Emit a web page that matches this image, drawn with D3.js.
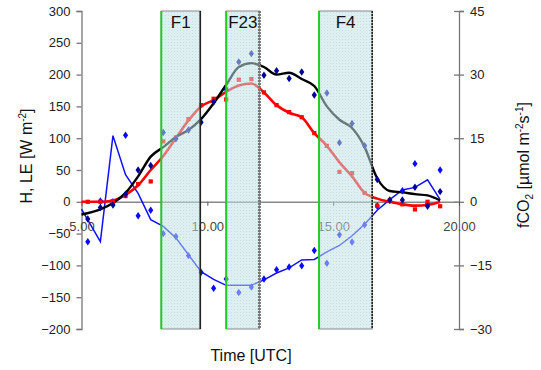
<!DOCTYPE html>
<html>
<head>
<meta charset="utf-8">
<script src="https://cdn.jsdelivr.net/npm/d3@7"></script>
<style>
  body { margin: 0; background: #fff; }
  svg { font-family: "Liberation Sans", Arial, sans-serif; }
</style>
</head>
<body>
<div id="chart"></div>
<script>
// times of the half-hourly points (UTC hours)
const times = [5.25, 5.75, 6.25, 6.75, 7.25, 7.75, 8.25, 8.75, 9.25, 9.75, 10.25, 10.75, 11.25, 11.75,
  12.25, 12.75, 13.25, 13.75, 14.25, 14.75, 15.25, 15.75, 16.25, 16.75, 17.25, 17.75, 18.25, 18.75, 19.25];
// times of the smoothed curves
const lineTimes = [5.0, 5.75, 6.25, 6.75, 7.25, 7.75, 8.25, 8.75, 9.25, 9.75, 10.25, 10.75, 11.25, 11.75,
  12.25, 12.75, 13.25, 13.75, 14.25, 14.75, 15.25, 15.75, 16.25, 16.75, 17.25, 17.75, 18.25, 18.75, 19.25];

// sensible heat H [W m-2]
const H_points = [-27, -9, -5, 12, 50, 57, 109, 99, 113, 125, 157, 177, 220, 233,
  199, 206, 194, 204, 168, 171, 93, 123, 88, 35, 3, 3, 23, -7, 16];
const H_line = [-20, -12, -2, 14, 40, 71, 86, 102, 113, 130, 155, 184, 212, 218,
  212, 200, 203, 193, 182, 150, 129, 116, 86, 37, 17, 15, 12, 10, 2];

// latent heat LE [W m-2]
const LE_points = [0, 0, 1, 9, 28, 32, 95, 101, 130, 152, 162, 161, 192, 193,
  172, 152, 141, 133, 108, 88, 47, 45, 14, -6, 2, -4, -12, 0, -7];
const LE_line = [0, 0, 2, 11, 26, 50, 72, 100, 128, 150, 160, 173, 183, 186,
  172, 152, 140, 133, 108, 88, 62, 40, 14, 5, 0, -4, -6, -5, 0];

// CO2 flux [umol m-2 s-1]
const fCO2_points = [-9.4, 0.2, 0, 15.7, -3.3, -2.0, -7.5, -8.2, -12.7, -16.6, -20.4, -18.2, -21.4, -20.1,
  -18.2, -16.0, -15.4, -15.1, -11.5, -14.5, -7.8, -9.5, -5.4, -1.0, 0.3, 2.6, 9.0, -0.5, 7.5];
const fCO2_line = [-1.7, -9.4, 15.6, 6.4, 2.0, -4.2, -5.8, -8.5, -12.5, -16.5, -18.3, -19.7, -19.7, -19.7,
  -18.4, -16.8, -15.6, -13.7, -13.6, -11.8, -10.3, -8.0, -5.3, -2.0, 0.5, 2.8, 3.4, 5.2, 0.5];

// flight windows
const flights = ["F1", "F23", "F4"];
const flightStart = [8.17, 10.75, 14.44];
const flightEnd = [9.72, 12.07, 16.55];

const leftTicks = [-200, -150, -100, -50, 0, 50, 100, 150, 200, 250, 300];
const rightTicks = [-30, -15, 0, 15, 30, 45];
const timeTicks = [5, 10, 15, 20];

const width = 541, height = 370;
const margin = { top: 11, right: 82, bottom: 41, left: 81.5 };

const svg = d3.select("#chart").append("svg")
  .attr("width", width)
  .attr("height", height);

const x = d3.scaleLinear().domain([5, 20]).range([margin.left, width - margin.right]);
const yL = d3.scaleLinear().domain([-200, 300]).range([height - margin.bottom, margin.top]);
const yR = d3.scaleLinear().domain([-30, 45]).range([height - margin.bottom, margin.top]);

// dotted fill for the flight windows
const defs = svg.append("defs");
const pat = defs.append("pattern")
  .attr("id", "dots")
  .attr("width", 3).attr("height", 3)
  .attr("patternUnits", "userSpaceOnUse");
pat.append("rect").attr("width", 3).attr("height", 3).attr("fill", "#c2e2e6");
pat.append("rect").attr("width", 1).attr("height", 1).attr("fill", "#9cc6cc");

// left axis
const gL = svg.append("g")
  .attr("transform", `translate(${margin.left},0)`)
  .call(d3.axisLeft(yL).tickValues(leftTicks).tickSize(5).tickPadding(6));
gL.select(".domain").attr("stroke", "#777").attr("stroke-width", 1.3);
gL.selectAll(".tick line").attr("stroke", "#777").attr("stroke-width", 1.3);
gL.selectAll("text").style("font-size", "13px").attr("fill", "#222");

// right axis
const gR = svg.append("g")
  .attr("transform", `translate(${width - margin.right},0)`)
  .call(d3.axisRight(yR).tickValues(rightTicks).tickSize(5).tickPadding(6));
gR.select(".domain").attr("stroke", "#777").attr("stroke-width", 1.3);
gR.selectAll(".tick line").attr("x1", -5).attr("x2", 5).attr("stroke", "#777").attr("stroke-width", 1.3);
gR.selectAll("text").style("font-size", "13px").attr("fill", "#222");

// time axis on the zero line
const gX = svg.append("g")
  .attr("transform", `translate(0,${yL(0)})`)
  .call(d3.axisBottom(x).tickValues(timeTicks).tickFormat(d3.format(".2f")).tickSize(4).tickPadding(16).tickSizeOuter(0));
gX.select(".domain").attr("stroke", "#888").attr("stroke-width", 1.6);
gX.selectAll(".tick line").attr("stroke", "#555");
gX.selectAll("text").style("font-size", "13px").attr("fill", "#444");

// smoothed curves
const lineL = d3.line().x((d, i) => x(lineTimes[i])).y(d => yL(d)).curve(d3.curveMonotoneX);
const lineR = d3.line().x((d, i) => x(lineTimes[i])).y(d => yR(d));

svg.append("path").datum(fCO2_line)
  .attr("d", lineR).attr("fill", "none").attr("stroke", "#1010ff").attr("stroke-width", 1.5);
svg.append("path").datum(LE_line)
  .attr("d", lineL).attr("fill", "none").attr("stroke", "#ff0000").attr("stroke-width", 2.6);
svg.append("path").datum(H_line)
  .attr("d", lineL).attr("fill", "none").attr("stroke", "#000").attr("stroke-width", 2.4);

// point markers
const diamond = d3.symbol().type(d3.symbolDiamond).size(16);
const square = d3.symbol().type(d3.symbolSquare).size(18);

svg.append("g").selectAll("path")
  .data(fCO2_points).join("path")
  .attr("d", diamond)
  .attr("transform", (d, i) => `translate(${x(times[i])},${yR(d)}) scale(1.2,1)`)
  .attr("fill", "#0a0aff");
svg.append("g").selectAll("path")
  .data(LE_points).join("path")
  .attr("d", square)
  .attr("transform", (d, i) => `translate(${x(times[i])},${yL(d)})`)
  .attr("fill", "#ff0000");
svg.append("g").selectAll("path")
  .data(H_points).join("path")
  .attr("d", diamond)
  .attr("transform", (d, i) => `translate(${x(times[i])},${yL(d)}) scale(1.2,1)`)
  .attr("fill", "#000099");

// flight windows, drawn over the data
const fw = svg.append("g").selectAll("g")
  .data(flights).join("g");
fw.append("rect")
  .attr("x", (d, i) => x(flightStart[i]))
  .attr("y", yL(300))
  .attr("width", (d, i) => x(flightEnd[i]) - x(flightStart[i]))
  .attr("height", yL(-200) - yL(300))
  .attr("fill", "url(#dots)")
  .attr("fill-opacity", 0.55)
  .attr("stroke", "#888")
  .attr("stroke-width", 1);
fw.append("line")
  .attr("x1", (d, i) => x(flightStart[i])).attr("x2", (d, i) => x(flightStart[i]))
  .attr("y1", yL(300)).attr("y2", yL(-200))
  .attr("stroke", "#22cc22").attr("stroke-width", 2);
fw.append("line")
  .attr("x1", (d, i) => x(flightEnd[i])).attr("x2", (d, i) => x(flightEnd[i]))
  .attr("y1", yL(300)).attr("y2", yL(-200))
  .attr("stroke", (d, i) => i === 1 ? "#777" : "#222")
  .attr("stroke-width", (d, i) => i === 1 ? 3 : 1.6)
  .attr("stroke-dasharray", (d, i) => i === 0 ? null : "2,1");
fw.append("text")
  .attr("x", (d, i) => (x(flightStart[i]) + x(flightEnd[i])) / 2)
  .attr("y", 28)
  .attr("text-anchor", "middle")
  .style("font-size", "17px")
  .attr("fill", "#111")
  .text(d => d);

// axis titles
const tL = svg.append("text")
  .attr("transform", "translate(32,156) rotate(-90)")
  .attr("text-anchor", "middle")
  .style("font-size", "16px")
  .attr("fill", "#111");
tL.append("tspan").text("H, LE [W m");
tL.append("tspan").attr("dy", -6).style("font-size", "10px").text("-2");
tL.append("tspan").attr("dy", 6).text("]");

const tR = svg.append("text")
  .attr("transform", "translate(529,165) rotate(-90)")
  .attr("text-anchor", "middle")
  .style("font-size", "16px")
  .attr("fill", "#111");
tR.append("tspan").text("fCO");
tR.append("tspan").attr("dy", 4).style("font-size", "10px").text("2");
tR.append("tspan").attr("dy", -4).text(" [µmol m");
tR.append("tspan").attr("dy", -6).style("font-size", "10px").text("-2");
tR.append("tspan").attr("dy", 6).text("s");
tR.append("tspan").attr("dy", -6).style("font-size", "10px").text("-1");
tR.append("tspan").attr("dy", 6).text("]");

svg.append("text")
  .attr("x", 251).attr("y", 361)
  .attr("text-anchor", "middle")
  .style("font-size", "16px")
  .attr("fill", "#111")
  .text("Time [UTC]");
</script>
</body>
</html>
